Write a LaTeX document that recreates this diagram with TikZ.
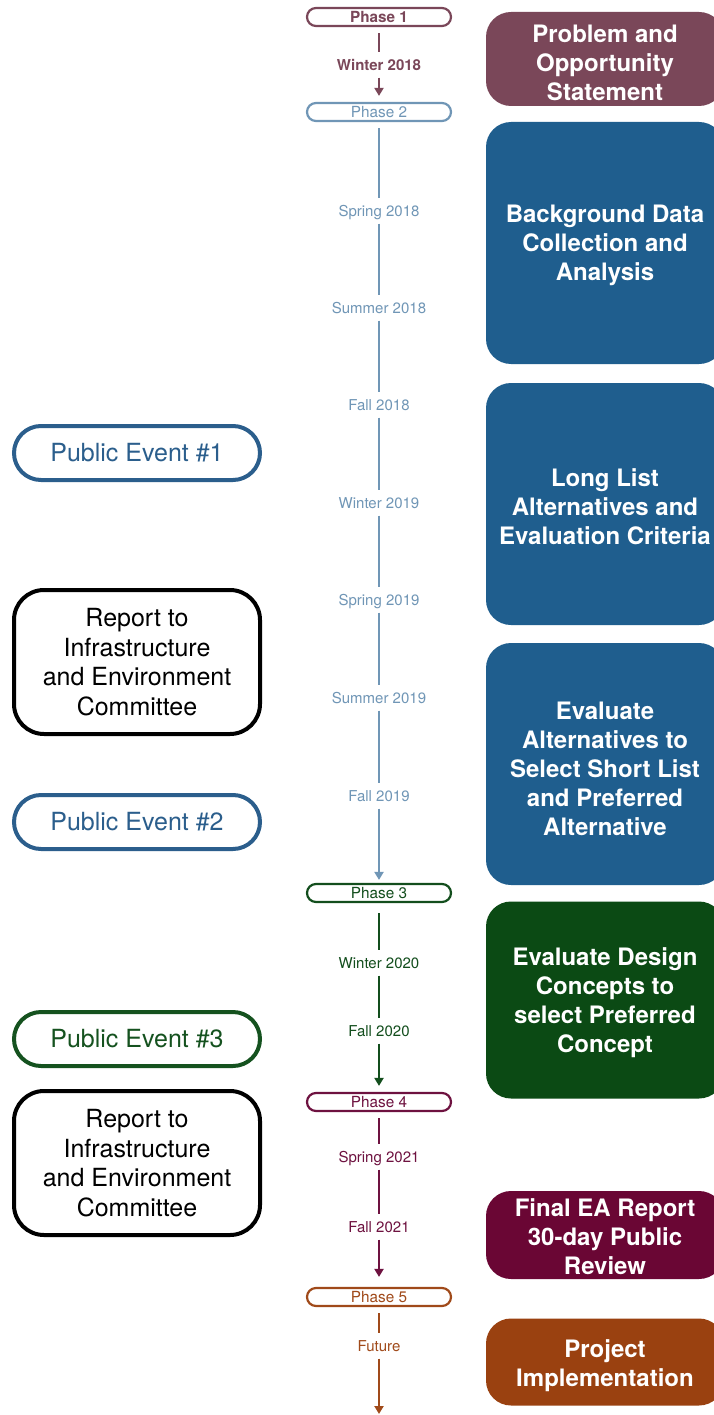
\documentclass[tikz,border=0pt]{standalone}
\usepackage{fontspec}
\setmainfont{TeX Gyre Heros}
\usetikzlibrary{arrows.meta}

% phase colours
\definecolor{phA}{HTML}{7A4759}
\definecolor{phB}{HTML}{7096B6}
\definecolor{phBdark}{HTML}{1F5E8E}
\definecolor{phC}{HTML}{134E1D}
\definecolor{phCdark}{HTML}{0B4A14}
\definecolor{phD}{HTML}{6E1240}
\definecolor{phDdark}{HTML}{6A0634}
\definecolor{phE}{HTML}{A04A1A}
\definecolor{phEdark}{HTML}{9A4110}
\definecolor{evblue}{HTML}{2B5E8C}
\definecolor{evgreen}{HTML}{15521F}

\tikzset{
  phase/.style={draw, line width=2.2pt, rounded corners=9pt, minimum width=144pt,
    minimum height=18pt, inner sep=0pt, font=\fontsize{15.3}{18}\selectfont},
  when/.style={inner xsep=2pt, inner ysep=5.5pt, text height=12.5pt, text depth=1.5pt,
    font=\fontsize{15}{18}\selectfont},
  tline/.style={line width=2.4pt},
  fromphase/.style={shorten <=6pt},
  tophase/.style={shorten >=6pt, -{Triangle[length=8pt,width=9pt]}},
  stage/.style={rounded corners=25pt, minimum width=238pt, inner sep=0pt},
  stagetext/.style={text=white, align=center, inner sep=0pt,
    font=\fontsize{24}{29}\selectfont\bfseries},
  event/.style={draw, line width=4pt, rounded corners=27pt, minimum width=246pt,
    minimum height=54pt, align=center, font=\fontsize{25}{29.5}\selectfont},
  report/.style={event, draw=black, rounded corners=30pt, minimum height=144pt}
}

\begin{document}
\begin{tikzpicture}[x=1pt,y=-1pt]
\useasboundingbox (0,0) rectangle (713,1415);
\fill[white] (0,0) rectangle (713,1415);

% ---------- timeline: phase markers ----------
\node[phase, draw=phA, text=phA, font=\fontsize{15.3}{18}\selectfont\bfseries] (p1) at (379,17) {Phase 1};
\node[phase, draw=phB, text=phB] (p2) at (379,112) {Phase 2};
\node[phase, draw=phC, text=phC] (p3) at (379,893) {Phase 3};
\node[phase, draw=phD, text=phD] (p4) at (379,1102) {Phase 4};
\node[phase, draw=phE, text=phE] (p5) at (379,1297) {Phase 5};

% ---------- timeline: seasons ----------
\node[when, text=phA, font=\fontsize{15}{18}\selectfont\bfseries] (w18) at (379,65) {Winter 2018};

\node[when, text=phB] (sp18) at (379,211) {Spring 2018};
\node[when, text=phB] (su18) at (379,308) {Summer 2018};
\node[when, text=phB] (fa18) at (379,405) {Fall 2018};
\node[when, text=phB] (wi19) at (379,503) {Winter 2019};
\node[when, text=phB] (sp19) at (379,600) {Spring 2019};
\node[when, text=phB] (su19) at (379,698) {Summer 2019};
\node[when, text=phB] (fa19) at (379,796) {Fall 2019};

\node[when, text=phC] (wi20) at (379,963) {Winter 2020};
\node[when, text=phC] (fa20) at (379,1031) {Fall 2020};

\node[when, text=phD] (sp21) at (379,1157) {Spring 2021};
\node[when, text=phD] (fa21) at (379,1227) {Fall 2021};

\node[when, text=phE] (fut) at (379,1346) {Future};
\coordinate (tail) at (379,1414);

% ---------- timeline: connectors ----------
\draw[tline, phA, fromphase] (p1) -- (w18);
\draw[tline, phA, tophase] (w18) -- (p2);

\draw[tline, phB, fromphase] (p2) -- (sp18);
\draw[tline, phB] (sp18) -- (su18);
\draw[tline, phB] (su18) -- (fa18);
\draw[tline, phB] (fa18) -- (wi19);
\draw[tline, phB] (wi19) -- (sp19);
\draw[tline, phB] (sp19) -- (su19);
\draw[tline, phB] (su19) -- (fa19);
\draw[tline, phB, tophase, shorten >=3pt] (fa19) -- (p3);

\draw[tline, phC, fromphase, shorten <=10pt] (p3) -- (wi20);
\draw[tline, phC] (wi20) -- (fa20);
\draw[tline, phC, tophase] (fa20) -- (p4);

\draw[tline, phD, fromphase] (p4) -- (sp21);
\draw[tline, phD] (sp21) -- (fa21);
\draw[tline, phD, tophase, shorten >=10pt] (fa21) -- (p5);

\draw[tline, phE, fromphase] (p5) -- (fut);
\draw[tline, phE, -{Triangle[length=8pt,width=9pt]}] (fut) -- (tail);

% ---------- stages on the right ----------
\node[stage, fill=phA, minimum height=94pt] (s1) at (605,59) {};
\node[stagetext] (s1t) at (605,63) {Problem and\\Opportunity\\Statement};
\node[stage, fill=phBdark, minimum height=242pt] (s2) at (605,243) {};
\node[stagetext] (s2t) at (605,245) {Background Data\\Collection and\\Analysis};
\node[stage, fill=phBdark, minimum height=242pt] (s3) at (605,504) {};
\node[stagetext] (s3t) at (605,506.5) {Long List\\Alternatives and\\Evaluation Criteria};
\node[stage, fill=phBdark, minimum height=242pt] (s4) at (605,764) {};
\node[stagetext] (s4t) at (605,768.5) {Evaluate\\Alternatives to\\Select Short List\\and Preferred\\Alternative};
\node[stage, fill=phCdark, minimum height=197pt] (s5) at (605,1000) {};
\node[stagetext] (s5t) at (605,1003) {Evaluate Design\\Concepts to\\select Preferred\\Concept};
\node[stage, fill=phDdark, minimum height=88pt] (s6) at (605,1235) {};
\node[stagetext] (s6t) at (605,1237) {Final EA Report\\30-day Public\\Review};
\node[stage, fill=phEdark, minimum height=87pt] (s7) at (605,1362) {};
\node[stagetext] (s7t) at (605,1366) {Project\\Implementation};

% ---------- consultation events on the left ----------
\node[event, draw=evblue, text=evblue] (e1) at (137,453) {Public Event \#1};
\node[report] (r1) at (137,662) {Report to\\Infrastructure\\and Environment\\Committee};
\node[event, draw=evblue, text=evblue] (e2) at (137,822) {Public Event \#2};
\node[event, draw=evgreen, text=evgreen] (e3) at (137,1039) {Public Event \#3};
\node[report] (r2) at (137,1163) {Report to\\Infrastructure\\and Environment\\Committee};
\end{tikzpicture}
\end{document}
